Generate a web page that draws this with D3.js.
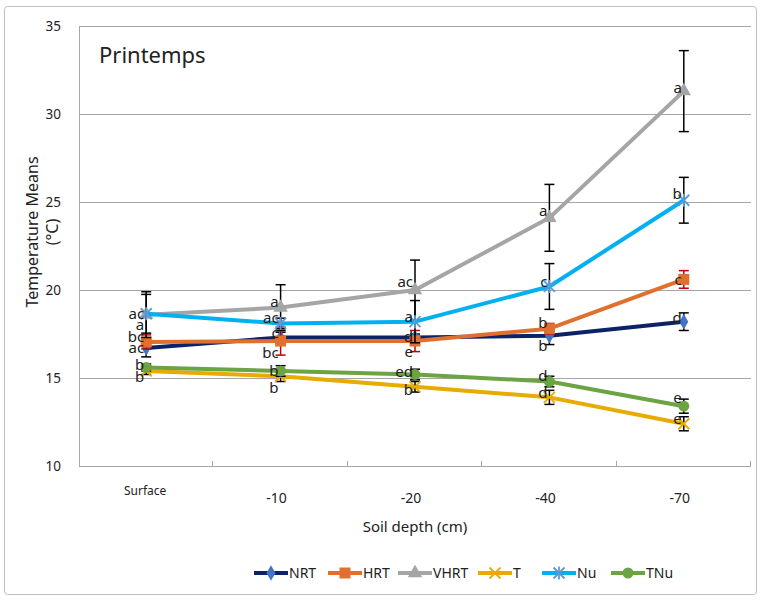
<!DOCTYPE html>
<html>
<head>
<meta charset="utf-8">
<script src="https://cdnjs.cloudflare.com/ajax/libs/d3/7.8.5/d3.min.js"></script>
<style>
  body { margin: 0; background: #fff; }
  text { font-family: "Noto Sans", "Open Sans", sans-serif; fill: #222; }
</style>
</head>
<body>
<div id="chart"></div>
<script>
// categories and values
var depths = ["Surface", "-10", "-20", "-40", "-70"];
var yTicks = [10, 15, 20, 25, 30, 35];

var NRT  = [16.7, 17.3, 17.3, 17.4, 18.2];
var HRT  = [17.05, 17.1, 17.1, 17.8, 20.6];
var VHRT = [18.6, 19.0, 20.0, 24.1, 31.3];
var T    = [15.4, 15.1, 14.5, 13.9, 12.4];
var Nu   = [18.65, 18.1, 18.2, 20.2, 25.1];
var TNu  = [15.6, 15.4, 15.2, 14.8, 13.4];

var NRTerr  = [0.5, 0.3, 0.2, 0.5, 0.5];
var HRTerr  = [0.4, 0.8, 0.6, 0.3, 0.5];
var VHRTerr = [1.3, 1.3, 1.7, 1.9, 2.3];
var Terr    = [0.2, 0.3, 0.3, 0.4, 0.4];
var Nuerr   = [1.1, 0.3, 1.2, 1.3, 1.3];
var TNuerr  = [0.2, 0.3, 0.3, 0.3, 0.4];

var NRTlab  = ["ac", "c", "d", "b", "d"];
var HRTlab  = ["bc", "bc", "e", "b", "c"];
var VHRTlab = ["a", "a", "ac", "a", "a"];
var Tlab    = ["b", "b", "b", "d", "e"];
var Nulab   = ["ac", "ac", "a", "c", "b"];
var TNulab  = ["b", "b", "ed", "d", "e"];

// label nudges (px, vertical) so letters sit like in the original
var labelNudge = {
  NRT:  [0, -5, -1, 10, -4],
  HRT:  [-5, 12, 11, -6, 0],
  VHRT: [10, -6, -8, -7, -3],
  T:    [6, 12, 3, -5, -5],
  Nu:   [0, -6, -5, -5, -6],
  TNu:  [-3, 0, -3, -6, -8]
};

var series = [
  {name: "NRT",  values: NRT,  err: NRTerr,  labels: NRTlab,  color: "#0b2266", mark: "#4472c4", shape: "diamond", errColor: "#000"},
  {name: "HRT",  values: HRT,  err: HRTerr,  labels: HRTlab,  color: "#e0702f", mark: "#e0702f", shape: "square",  errColor: "#c00000"},
  {name: "VHRT", values: VHRT, err: VHRTerr, labels: VHRTlab, color: "#a5a5a5", mark: "#a5a5a5", shape: "triangle", errColor: "#000"},
  {name: "T",    values: T,    err: Terr,    labels: Tlab,    color: "#e8ab00", mark: "#e8ab00", shape: "x",       errColor: "#000"},
  {name: "Nu",   values: Nu,   err: Nuerr,   labels: Nulab,   color: "#00b0f0", mark: "#5b9bd5", shape: "star",    errColor: "#000"},
  {name: "TNu",  values: TNu,  err: TNuerr,  labels: TNulab,  color: "#6ca443", mark: "#6ca443", shape: "circle",  errColor: "#000"}
];

var width = 761, height = 600;
var plotLeft = 79, plotRight = 751, plotTop = 26, plotBottom = 466;

var svg = d3.select("#chart").append("svg")
    .attr("width", width)
    .attr("height", height);

// outer chart border
svg.append("rect")
    .attr("x", 4.5).attr("y", 6.5)
    .attr("width", 752).attr("height", 588)
    .attr("rx", 3)
    .attr("fill", "#fff")
    .attr("stroke", "#bfbfbf");

var x = d3.scaleBand().domain(depths).range([plotLeft, plotRight]);
var y = d3.scaleLinear().domain([10, 35]).range([plotBottom, plotTop]);
var cx = function(i) { return x(depths[i]) + x.bandwidth() / 2; };

// gridlines
svg.selectAll("line.grid")
    .data(yTicks.filter(function(d) { return d > 10; }))
    .enter().append("line")
    .attr("class", "grid")
    .attr("x1", plotLeft).attr("x2", plotRight)
    .attr("y1", function(d) { return Math.round(y(d)) + 0.5; })
    .attr("y2", function(d) { return Math.round(y(d)) + 0.5; })
    .attr("stroke", "#a6a6a6");

// y axis line and labels
svg.append("line")
    .attr("x1", plotLeft + 0.5).attr("x2", plotLeft + 0.5)
    .attr("y1", plotTop).attr("y2", plotBottom)
    .attr("stroke", "#a6a6a6");

svg.selectAll("text.ytick")
    .data(yTicks)
    .enter().append("text")
    .attr("class", "ytick")
    .attr("x", 61)
    .attr("y", function(d) { return y(d); })
    .attr("dy", "0.35em")
    .attr("text-anchor", "end")
    .style("font-size", "13.5px")
    .text(function(d) { return d; });

// x axis with ticks pointing up
svg.append("line")
    .attr("x1", plotLeft).attr("x2", plotRight)
    .attr("y1", plotBottom + 0.5).attr("y2", plotBottom + 0.5)
    .attr("stroke", "#a6a6a6");

svg.selectAll("line.xtick")
    .data(depths)
    .enter().append("line")
    .attr("class", "xtick")
    .attr("x1", function(d) { return Math.round(x(d) + x.bandwidth()) - 0.5; })
    .attr("x2", function(d) { return Math.round(x(d) + x.bandwidth()) - 0.5; })
    .attr("y1", plotBottom - 5).attr("y2", plotBottom)
    .attr("stroke", "#a6a6a6");

svg.selectAll("text.xtick")
    .data(depths)
    .enter().append("text")
    .attr("class", "xtick")
    .attr("x", function(d, i) { return x(d) + x.bandwidth() / 2 - (i === 0 ? 1 : 4); })
    .attr("y", function(d, i) { return i === 0 ? 495 : 503; })
    .attr("text-anchor", "middle")
    .style("font-size", function(d, i) { return i === 0 ? "12px" : "14px"; })
    .text(function(d) { return d; });

// axis titles
svg.append("text")
    .attr("x", (plotLeft + plotRight) / 2).attr("y", 532)
    .attr("text-anchor", "middle")
    .style("font-size", "15px")
    .text("Soil depth (cm)");

var yt = svg.append("text")
    .attr("transform", "translate(38,232) rotate(-90)")
    .attr("text-anchor", "middle")
    .style("font-size", "16px");
yt.append("tspan").attr("x", 0).attr("dy", 0).text("Temperature Means");
yt.append("tspan").attr("x", 0).attr("dy", 20).text("(°C)");

// chart title inside the plot
svg.append("text")
    .attr("x", 99).attr("y", 63)
    .style("font-size", "22px")
    .text("Printemps");

// marker drawing
function drawMarker(g, shape, color, px, py) {
  if (shape === "diamond") {
    g.append("path").attr("d", d3.symbol().type(d3.symbolDiamond).size(70)())
      .attr("transform", "translate(" + px + "," + py + ")").attr("fill", color);
  } else if (shape === "square") {
    g.append("rect").attr("x", px - 5.5).attr("y", py - 5.5).attr("width", 11).attr("height", 11)
      .attr("fill", color);
  } else if (shape === "triangle") {
    g.append("path").attr("d", d3.symbol().type(d3.symbolTriangle).size(90)())
      .attr("transform", "translate(" + px + "," + py + ")").attr("fill", color);
  } else if (shape === "circle") {
    g.append("circle").attr("cx", px).attr("cy", py).attr("r", 5.5).attr("fill", color);
  } else if (shape === "x" || shape === "star") {
    var s = 5.5;
    var segs = [[-s, -s, s, s], [-s, s, s, -s]];
    if (shape === "star") segs.push([0, -s - 1, 0, s + 1]);
    segs.forEach(function(q) {
      g.append("line")
        .attr("x1", px + q[0]).attr("y1", py + q[1])
        .attr("x2", px + q[2]).attr("y2", py + q[3])
        .attr("stroke", color).attr("stroke-width", 1.8);
    });
  }
}

var line = d3.line()
    .x(function(d, i) { return cx(i); })
    .y(function(d) { return y(d); });

series.forEach(function(s) {
  var g = svg.append("g").attr("class", "series " + s.name);

  g.append("path")
      .datum(s.values)
      .attr("d", line)
      .attr("fill", "none")
      .attr("stroke", s.color)
      .attr("stroke-width", 4)
      .attr("stroke-linejoin", "round");

  // error bars
  s.values.forEach(function(v, i) {
    var px = cx(i);
    var y1 = y(v + s.err[i]), y2 = y(v - s.err[i]);
    g.append("line").attr("x1", px).attr("x2", px).attr("y1", y1).attr("y2", y2)
      .attr("stroke", s.errColor).attr("stroke-width", 1.5);
    [y1, y2].forEach(function(yy) {
      g.append("line").attr("x1", px - 5).attr("x2", px + 5).attr("y1", yy).attr("y2", yy)
        .attr("stroke", s.errColor).attr("stroke-width", 1.5);
    });
  });

  s.values.forEach(function(v, i) {
    drawMarker(g, s.shape, s.mark, cx(i), y(v));
  });
});

// letter labels go on top of everything
series.forEach(function(s) {
  svg.selectAll(null)
      .data(s.values)
      .enter().append("text")
      .attr("x", function(d, i) { return cx(i) - 2; })
      .attr("y", function(d, i) { return y(d) + labelNudge[s.name][i]; })
      .attr("dy", "0.35em")
      .attr("text-anchor", "end")
      .style("font-size", "15px")
      .text(function(d, i) { return s.labels[i]; });
});

// legend
var legendX = [254, 328, 398, 478, 542, 611];
var legend = svg.selectAll("g.legend")
    .data(series)
    .enter().append("g")
    .attr("class", "legend")
    .attr("transform", function(d, i) { return "translate(" + legendX[i] + ",573)"; });

legend.append("line")
    .attr("x1", 0).attr("x2", 34)
    .attr("stroke", function(d) { return d.color; })
    .attr("stroke-width", 4);

legend.each(function(d) {
  drawMarker(d3.select(this), d.shape, d.mark, 17, 0);
});

legend.append("text")
    .attr("x", 35).attr("dy", "0.35em")
    .style("font-size", "14px")
    .text(function(d) { return d.name; });
</script>
</body>
</html>
